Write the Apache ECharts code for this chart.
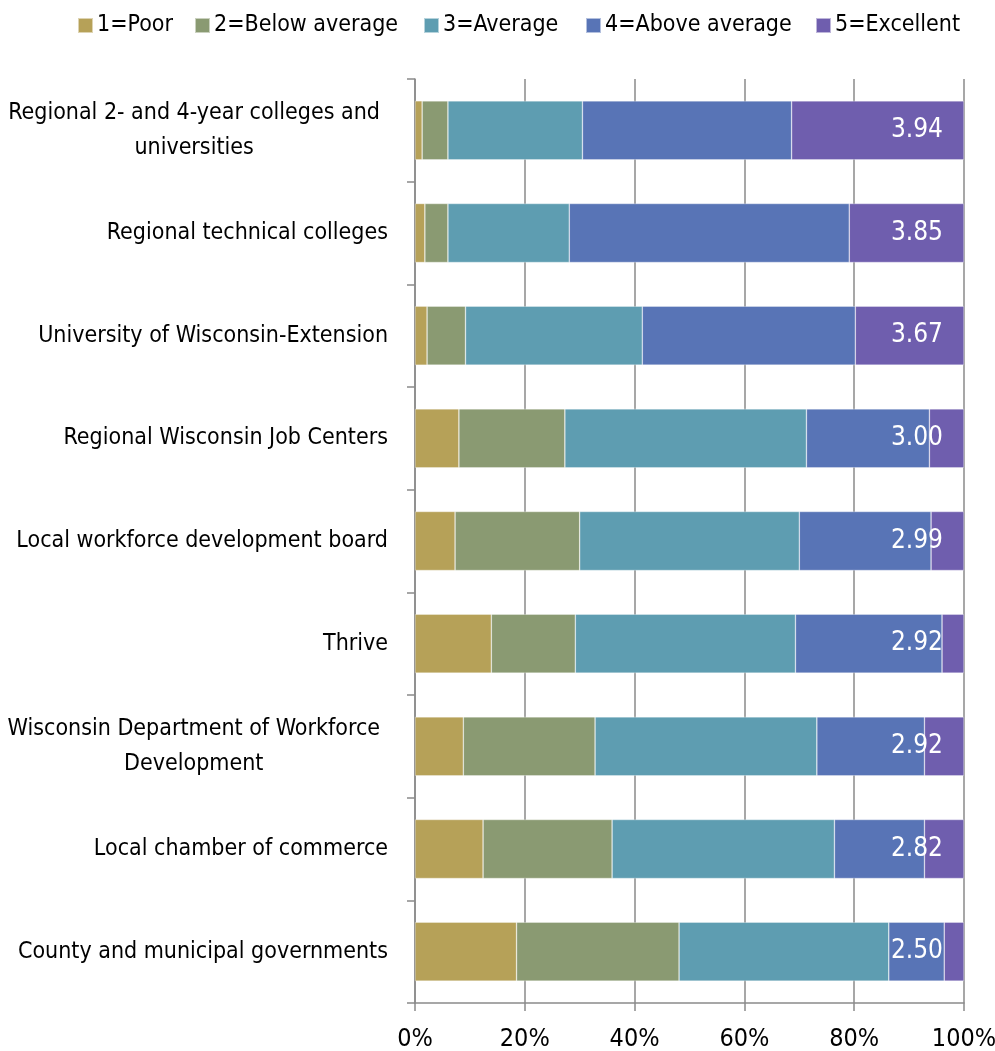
<!DOCTYPE html>
<html>
<head>
<meta charset="utf-8">
<script src="https://cdn.jsdelivr.net/npm/echarts@6/dist/echarts.min.js"></script>
<style>
html,body{margin:0;padding:0;background:#fff;}
#chart{width:995px;height:1051px;}
</style>
</head>
<body>
<div id="chart"></div>
<script>
// ---- data ----
const categories = [
  "Regional 2- and 4-year colleges and\nuniversities",
  "Regional technical colleges",
  "University of Wisconsin-Extension",
  "Regional Wisconsin Job Centers",
  "Local workforce development board",
  "Thrive",
  "Wisconsin Department of Workforce\nDevelopment",
  "Local chamber of commerce",
  "County and municipal governments"
];
const seriesNames = ["1=Poor", "2=Below average", "3=Average", "4=Above average", "5=Excellent"];
const poor         = [1.3, 1.8, 2.2, 8.0, 7.3, 13.9, 8.8, 12.4, 18.5];
const belowAverage = [4.7, 4.2, 7.0, 19.3, 22.7, 15.3, 24.0, 23.5, 29.6];
const average      = [24.5, 22.1, 32.2, 44.0, 40.0, 40.1, 40.4, 40.5, 38.2];
const aboveAverage = [38.1, 51.0, 38.8, 22.4, 24.0, 26.7, 19.6, 16.4, 10.1];
const excellent    = [31.4, 20.9, 19.8, 6.3, 6.0, 4.0, 7.2, 7.2, 3.6];
const means        = ["3.94", "3.85", "3.67", "3.00", "2.99", "2.92", "2.92", "2.82", "2.50"];
const xTicks       = [0, 20, 40, 60, 80, 100];

// ---- chart ----
const FONT = "'Liberation Sans Narrow', 'DejaVu Sans Condensed', 'Liberation Sans', sans-serif";
const colors = ["#b6a158", "#8a9a72", "#5e9db1", "#5874b6", "#6f5eae"];
const values = [poor, belowAverage, average, aboveAverage, excellent];
const legendLeft = [72, 189, 418, 580, 810];

const chart = echarts.init(document.getElementById('chart'), null, {renderer: 'canvas'});

const series = seriesNames.map((name, i) => ({
  name: name,
  type: 'bar',
  stack: 'total',
  barWidth: 59,
  data: values[i],
  itemStyle: {color: colors[i], borderColor: 'rgba(255,255,255,0.55)', borderWidth: 0.6},
  label: i === 4 ? {
    show: true,
    position: 'insideRight',
    distance: 21,
    color: '#ffffff',
    fontFamily: FONT,
    fontSize: 26,
    formatter: p => means[p.dataIndex]
  } : {show: false},
  emphasis: {disabled: true}
}));

const legends = seriesNames.map((name, i) => ({
  data: [name],
  left: legendLeft[i],
  top: 9,
  itemWidth: 15,
  itemHeight: 15,
  itemGap: 5,
  icon: 'rect',
  selectedMode: false,
  textStyle: {fontFamily: FONT, fontSize: 23, color: '#000', padding: [0, 0, 0, -1]}
}));

const catData = categories.map(c => {
  if (c.indexOf('\n') >= 0) {
    return {value: c, textStyle: {padding: [0, 8, 0, 0]}};
  }
  return c;
});

chart.setOption({
  animation: false,
  color: colors,
  legend: legends,
  grid: {left: 415, right: 31, top: 79, bottom: 48, containLabel: false, outerBoundsMode: 'none'},
  xAxis: {
    type: 'value',
    min: 0,
    max: 100,
    interval: 20,
    axisLine: {show: true, lineStyle: {color: '#8a8a8a', width: 1.5}},
    axisTick: {show: true, length: 8, lineStyle: {color: '#8a8a8a', width: 1.5}},
    splitLine: {show: true, lineStyle: {color: '#8a8a8a', width: 1.5}},
    axisLabel: {
      formatter: v => xTicks.indexOf(v) >= 0 ? v + '%' : '',
      fontFamily: FONT,
      fontSize: 25,
      color: '#000',
      margin: 24
    }
  },
  yAxis: {
    type: 'category',
    inverse: true,
    data: catData,
    axisLine: {show: true, lineStyle: {color: '#8a8a8a', width: 1.5}},
    axisTick: {show: true, length: 8, lineStyle: {color: '#8a8a8a', width: 1.5}},
    axisLabel: {
      fontFamily: FONT,
      fontSize: 23,
      color: '#000',
      margin: 27,
      lineHeight: 35,
      formatter: v => v.split('\n').map(l => '{c|' + l + '}').join('\n'),
      rich: {c: {align: 'center', fontFamily: FONT, fontSize: 23, color: '#000', lineHeight: 35}}
    }
  },
  series: series
});
</script>
</body>
</html>
